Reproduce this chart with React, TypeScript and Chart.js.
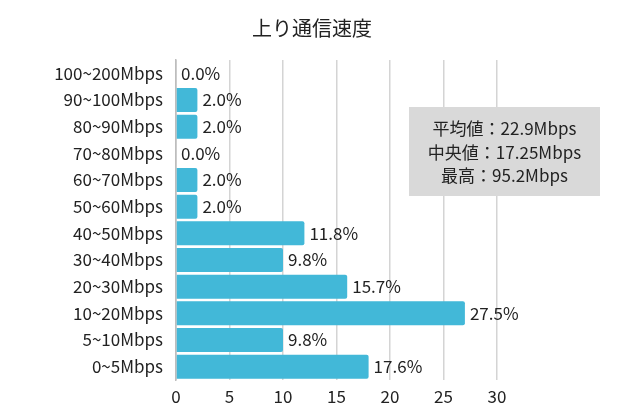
import React, { useEffect, useRef } from "react";
import { Chart, registerables } from "chart.js";

Chart.register(...registerables);

const TITLE = "上り通信速度";
const categories = [
  "100~200Mbps",
  "90~100Mbps",
  "80~90Mbps",
  "70~80Mbps",
  "60~70Mbps",
  "50~60Mbps",
  "40~50Mbps",
  "30~40Mbps",
  "20~30Mbps",
  "10~20Mbps",
  "5~10Mbps",
  "0~5Mbps",
];
const barValues = [0, 2, 2, 0, 2, 2, 12, 10, 16, 27, 10, 18];
const percentLabels = ["0.0%", "2.0%", "2.0%", "0.0%", "2.0%", "2.0%", "11.8%", "9.8%", "15.7%", "27.5%", "9.8%", "17.6%"];
const xTicks = [0, 5, 10, 15, 20, 25, 30];
const summaryLines = ["平均値：22.9Mbps", "中央値：17.25Mbps", "最高：95.2Mbps"];

const FONT = "'Noto Sans CJK JP', 'Noto Sans', sans-serif";

const overlayPlugin = {
  id: "overlay",
  afterDatasetsDraw(chart: any) {
    const ctx = chart.ctx;
    const meta = chart.getDatasetMeta(0);
    ctx.save();
    ctx.fillStyle = "#222";
    ctx.font = `17px ${FONT}`;
    ctx.textBaseline = "middle";
    ctx.textAlign = "left";
    meta.data.forEach((bar: any, i: number) => {
      const x = barValues[i] === 0 ? chart.chartArea.left + 5 : bar.x + 5;
      ctx.fillText(percentLabels[i], x, bar.y);
    });
    ctx.restore();
  },
  afterDraw(chart: any) {
    const ctx = chart.ctx;
    ctx.save();
    ctx.fillStyle = "#222";
    ctx.font = `20px ${FONT}`;
    ctx.textAlign = "center";
    ctx.textBaseline = "middle";
    ctx.fillText(TITLE, 312, 28);
    const bx = 409, by = 107, bw = 191, bh = 89;
    ctx.fillStyle = "#d9d9d9";
    ctx.fillRect(bx, by, bw, bh);
    ctx.fillStyle = "#222";
    ctx.font = `17px ${FONT}`;
    summaryLines.forEach((t, i) => {
      ctx.fillText(t, bx + bw / 2, by + 22 + i * 23.5);
    });
    ctx.restore();
  },
};

export default function App() {
  const ref = useRef<HTMLCanvasElement | null>(null);
  useEffect(() => {
    if (!ref.current) return;
    const chart = new Chart(ref.current, {
      type: "bar",
      data: {
        labels: categories,
        datasets: [
          {
            data: barValues,
            backgroundColor: "#42b8d8",
            borderWidth: 0,
            borderRadius: 2,
            borderSkipped: "start",
            barPercentage: 0.9,
            categoryPercentage: 1,
          },
        ],
      },
      options: {
        indexAxis: "y",
        animation: false,
        responsive: false,
        maintainAspectRatio: false,
        layout: { padding: { top: 60, right: 143, bottom: 0, left: 0 } },
        plugins: {
          legend: { display: false },
          title: { display: false },
          tooltip: { enabled: false },
        },
        scales: {
          x: {
            min: 0,
            max: 30,
            afterBuildTicks: (s: any) => {
              s.ticks = xTicks.map((v) => ({ value: v }));
            },
            afterFit: (s: any) => {
              s.height = 37;
            },
            grid: {
              color: (c: any) => (c.tick && c.tick.value === 0 ? "#bdbdbd" : "#d4d4d4"),
              lineWidth: 1.5,
              drawTicks: false,
            },
            border: { display: false },
            ticks: {
              color: "#222",
              font: { family: FONT, size: 17 },
              padding: 6,
            },
          },
          y: {
            afterFit: (s: any) => {
              s.width = 176;
            },
            grid: { display: false, drawTicks: false },
            border: { display: true, color: "#bdbdbd", width: 1.5 },
            ticks: {
              color: "#222",
              font: { family: FONT, size: 17 },
              padding: 13,
            },
          },
        },
      },
      plugins: [overlayPlugin],
    });
    return () => chart.destroy();
  }, []);
  return (
    <div style={{ position: "fixed", left: 0, top: 0, width: 640, height: 417, background: "#fff" }}>
      <canvas ref={ref} width={640} height={417} style={{ width: 640, height: 417 }} />
    </div>
  );
}
